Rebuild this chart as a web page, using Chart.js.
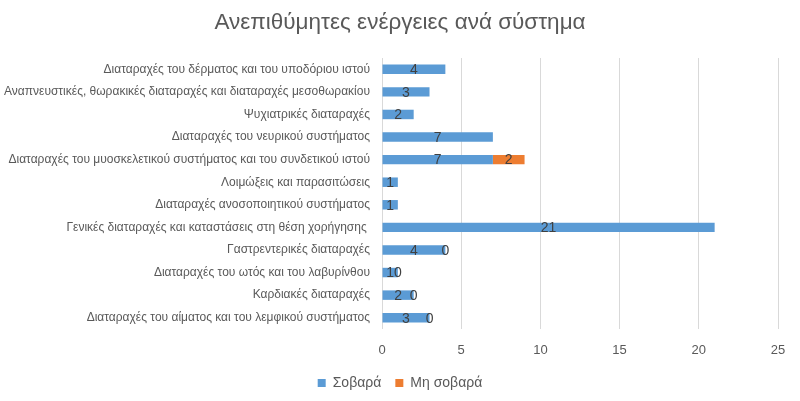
<!DOCTYPE html>
<html><head><meta charset="utf-8">
<script src="https://cdn.jsdelivr.net/npm/chart.js@4.4.1/dist/chart.umd.min.js"></script>
<style>html,body{margin:0;padding:0;background:#fff}</style>
</head><body>
<canvas id="c" width="800" height="401"></canvas>
<script>
const categories = [
  'Διαταραχές του δέρματος και του υποδόριου ιστού',
  'Αναπνευστικές, θωρακικές διαταραχές και διαταραχές μεσοθωρακίου',
  'Ψυχιατρικές διαταραχές',
  'Διαταραχές του νευρικού συστήματος',
  'Διαταραχές του μυοσκελετικού συστήματος και του συνδετικού ιστού',
  'Λοιμώξεις και παρασιτώσεις',
  'Διαταραχές ανοσοποιητικού συστήματος',
  'Γενικές διαταραχές και καταστάσεις στη θέση χορήγησης ',
  'Γαστρεντερικές διαταραχές',
  'Διαταραχές του ωτός και του λαβυρίνθου',
  'Καρδιακές διαταραχές',
  'Διαταραχές του αίματος και του λεμφικού συστήματος'
];
const serious    = [4, 3, 2, 7, 7, 1, 1, 21, 4, 1, 2, 3];
const nonSerious = [null, null, null, null, 2, null, null, null, 0, 0, 0, 0];
const seriesNames = ['Σοβαρά', 'Μη σοβαρά'];
const seriesColors = ['#5B9BD5', '#ED7D31'];
const xMin = 0, xMax = 25, xStep = 5;
const titleText = 'Ανεπιθύμητες ενέργειες ανά σύστημα';

const FONT = '"Liberation Sans", Arial, sans-serif';

const valueLabels = {
  id: 'valueLabels',
  afterDatasetsDraw(chart) {
    const ctx = chart.ctx;
    ctx.save();
    ctx.font = '14px ' + FONT;
    ctx.fillStyle = '#404040';
    ctx.textAlign = 'center';
    ctx.textBaseline = 'middle';
    chart.data.datasets.forEach((ds, i) => {
      const meta = chart.getDatasetMeta(i);
      meta.data.forEach((el, j) => {
        const v = ds.data[j];
        if (v === null || v === undefined) return;
        ctx.fillText(String(v), (el.x + el.base) / 2, el.y + 1);
      });
    });
    ctx.restore();
  }
};

// centre title and legend on the full canvas width
const centreBlocks = {
  id: 'centreBlocks',
  afterLayout(chart) {
    [chart.titleBlock, chart.legend].forEach(b => {
      if (b) { b.left += 11; b.right += 11; }
    });
  }
};

new Chart(document.getElementById('c'), {
  type: 'bar',
  data: {
    labels: categories,
    datasets: [
      { label: seriesNames[0], data: serious, backgroundColor: seriesColors[0], barPercentage: 0.42, categoryPercentage: 1 },
      { label: seriesNames[1], data: nonSerious, backgroundColor: seriesColors[1], barPercentage: 0.42, categoryPercentage: 1 }
    ]
  },
  options: {
    indexAxis: 'y',
    responsive: false,
    devicePixelRatio: 1,
    animation: false,
    layout: { padding: { left: 0, right: 22, top: 0, bottom: 1 } },
    plugins: {
      title: {
        display: true, text: titleText, color: '#595959',
        font: { family: FONT, size: 22.5, weight: 'normal' },
        padding: { top: 9, bottom: 22 }
      },
      legend: {
        position: 'bottom',
        labels: {
          color: '#595959', boxWidth: 8, boxHeight: 8, padding: 14,
          font: { family: FONT, size: 14 }
        }
      },
      tooltip: { enabled: false }
    },
    scales: {
      x: {
        stacked: true, min: xMin, max: xMax,
        ticks: { stepSize: xStep, color: '#595959', font: { family: FONT, size: 13 }, padding: 14 },
        grid: { color: '#D9D9D9', lineWidth: 1, drawTicks: false },
        border: { display: false },
        afterFit(s) { s.height = 33; }
      },
      y: {
        stacked: true,
        ticks: { color: '#595959', font: { family: FONT, size: 12 }, padding: 12, autoSkip: false },
        grid: { display: false, drawTicks: false },
        border: { display: false },
        afterFit(s) { s.width = 382; }
      }
    }
  },
  plugins: [valueLabels, centreBlocks]
});
</script>
</body></html>
